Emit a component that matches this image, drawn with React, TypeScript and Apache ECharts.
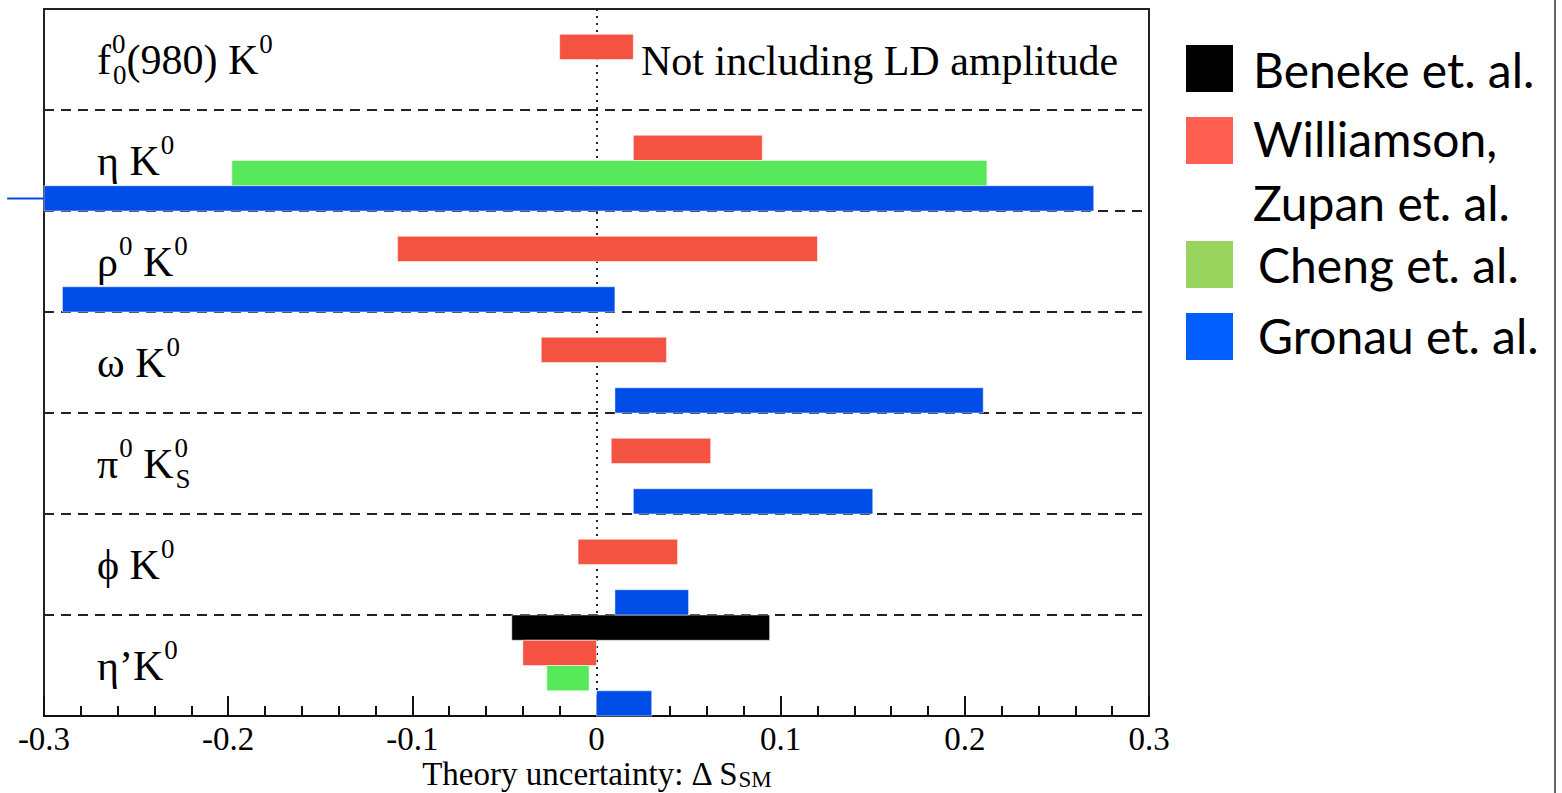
import React, { useEffect, useRef } from "react";
import * as echarts from "echarts";

// ---- data ----
const categories = ["f0(980) K0", "η K0", "ρ0 K0", "ω K0", "π0 KS0", "ϕ K0", "η’K0"];
const rowLabels = [
  "{m|f}{supz|0}{sub|0}{m|(980) K}{sup|0}",
  "{m|η K}{sup|0}",
  "{m|ρ}{sup|0}{m| K}{sup|0}",
  "{m|ω K}{sup|0}",
  "{m|π}{sup|0}{m| K}{supz|0}{sub|S}",
  "{m|ϕ K}{sup|0}",
  "{m|η’K}{sup|0}",
];
// [low, high] per category, null = no estimate
const beneke: ([number, number] | null)[] = [null, null, null, null, null, null, [-0.046, 0.094]];
const williamson: ([number, number] | null)[] = [
  [-0.02, 0.02], [0.02, 0.09], [-0.108, 0.12], [-0.03, 0.038], [0.008, 0.062], [-0.01, 0.044], [-0.04, 0.0],
];
const cheng: ([number, number] | null)[] = [null, [-0.198, 0.212], null, null, null, null, [-0.027, -0.004]];
const gronau: ([number, number] | null)[] = [
  null, [-0.32, 0.27], [-0.29, 0.01], [0.01, 0.21], [0.02, 0.15], [0.01, 0.05], [0.0, 0.03],
];
const seriesNames = ["Beneke et. al.", "Williamson, Zupan et. al.", "Cheng et. al.", "Gronau et. al."];
const legendLines = [["Beneke et. al."], ["Williamson,", "Zupan et. al."], ["Cheng et. al."], ["Gronau et. al."]];
const barColors = ["#000000", "#F55342", "#58E95A", "#004CE6"];
const legendColors = ["#000000", "#FF5F50", "#99D45F", "#005EFF"];
const tickLabels = ["-0.3", "-0.2", "-0.1", "0", "0.1", "0.2", "0.3"];
const xMin = -0.3;
const xMax = 0.3;

const SERIF = "Liberation Serif";

function makeRender(slot: number, color: string) {
  return (params: any, api: any) => {
    const lo = api.value(0);
    const hi = api.value(1);
    const row = api.value(2);
    const band = api.size([0, 1])[1];
    const slotH = band / 4;
    const a = api.coord([lo, row]);
    const b = api.coord([hi, row]);
    const y0 = a[1] - band / 2 + slot * slotH;
    const cs = params.coordSys;
    const rect = echarts.graphic.clipRectByRect(
      { x: a[0], y: y0, width: b[0] - a[0], height: slotH },
      { x: cs.x, y: cs.y, width: cs.width, height: cs.height }
    );
    const children: any[] = [];
    if (rect) {
      children.push({ type: "rect", shape: rect, style: { fill: color, stroke: "rgba(255,255,255,0.5)", lineWidth: 1 } });
    }
    if (lo < xMin) {
      const m = api.coord([xMin, row]);
      children.push({
        type: "line",
        shape: { x1: a[0], y1: y0 + slotH / 2, x2: m[0], y2: y0 + slotH / 2 },
        style: { stroke: color, lineWidth: 2 },
      });
    }
    return { type: "group", children };
  };
}

function toData(arr: ([number, number] | null)[]) {
  const out: number[][] = [];
  arr.forEach((r, i) => {
    if (r) out.push([r[0], r[1], i]);
  });
  return out;
}

export default function App() {
  const ref = useRef<HTMLDivElement>(null);
  useEffect(() => {
    if (!ref.current) return;
    const chart = echarts.init(ref.current, undefined, { renderer: "svg" });
    const all = [beneke, williamson, cheng, gronau];
    const series: any[] = all.map((arr, k) => ({
      type: "custom",
      name: seriesNames[k],
      renderItem: makeRender(k, barColors[k]),
      encode: { x: [0, 1], y: 2 },
      data: toData(arr),
      z: 3,
    }));
    series.push({
      type: "line",
      name: "zero",
      data: [],
      z: 1,
      markLine: {
        silent: true,
        symbol: "none",
        z: 1,
        label: { show: false },
        lineStyle: { type: [2, 5], color: "#222", width: 2 },
        data: [{ xAxis: 0 }],
      },
    });

    const graphics: any[] = [];
    const sqY = [45, 117, 241, 313];
    const textY = [[69], [138, 202], [264], [335]];
    const textX = [1253, 1253, 1258, 1258];
    legendColors.forEach((c, k) => {
      graphics.push({ type: "rect", shape: { x: 1186, y: sqY[k], width: 47, height: 47 }, style: { fill: c } });
      legendLines[k].forEach((t, j) => {
        graphics.push({
          type: "text",
          x: textX[k],
          y: textY[k][j],
          style: { text: t, fill: "#000", fontFamily: "Lato", fontSize: 48, verticalAlign: "middle", align: "left" },
        });
      });
    });
    graphics.push({
      type: "text",
      x: 641,
      y: 61,
      style: { text: "Not including LD amplitude", fill: "#000", fontFamily: SERIF, fontSize: 42, verticalAlign: "middle" },
    });
    graphics.push({ type: "line", shape: { x1: 1555, y1: 0, x2: 1555, y2: 793 }, style: { stroke: "#333", lineWidth: 1.5 } });

    chart.setOption({
      animation: false,
      backgroundColor: "#fff",
      grid: {
        left: 44, right: 413, top: 9, bottom: 77,
        outerBoundsMode: "none",
        containLabel: false,
        show: true, borderColor: "#222", borderWidth: 2, backgroundColor: "transparent",
      },
      xAxis: {
        type: "value",
        min: xMin,
        max: xMax,
        interval: 0.1,
        axisLine: { show: true, lineStyle: { color: "#111", width: 2 } },
        axisTick: { show: true, inside: true, length: 20, lineStyle: { color: "#111", width: 2 } },
        minorTick: { show: true, splitNumber: 5, length: 10, lineStyle: { color: "#111", width: 2 } },
        splitLine: { show: false },
        axisLabel: {
          color: "#000",
          fontFamily: SERIF,
          fontSize: 33,
          lineHeight: 33,
          margin: 6,
          formatter: (v: number) => tickLabels[Math.round((v - xMin) / 0.1)] ?? "",
        },
        name: "{t|Theory uncertainty: Δ S}{s|SM}",
        nameLocation: "middle",
        nameGap: 41,
        nameMoveOverlap: false,
        nameTextStyle: {
          rich: {
            t: { fontFamily: SERIF, fontSize: 33, color: "#000", lineHeight: 26, verticalAlign: "top" },
            s: { fontFamily: SERIF, fontSize: 23, color: "#000", lineHeight: 34, verticalAlign: "bottom" },
          },
        },
      },
      yAxis: {
        type: "category",
        data: categories,
        inverse: true,
        axisLine: { show: false },
        axisTick: { show: false },
        splitLine: { show: true, lineStyle: { type: [10, 7], color: "#222", width: 2 } },
        axisLabel: {
          inside: true,
          margin: 53,
          align: "left",
          formatter: (_v: string, i: number) => rowLabels[i],
          rich: {
            m: { fontFamily: SERIF, fontSize: 42, color: "#000", lineHeight: 58, verticalAlign: "middle" },
            sup: { fontFamily: SERIF, fontSize: 27, color: "#000", lineHeight: 27, verticalAlign: "top", padding: [0, 0, 0, 1] },
            supz: { fontFamily: SERIF, fontSize: 27, color: "#000", lineHeight: 27, verticalAlign: "top", width: 0, padding: [0, 0, 0, 1] },
            sub: { fontFamily: SERIF, fontSize: 27, color: "#000", lineHeight: 27, verticalAlign: "bottom", padding: [0, 0, 0, 1] },
          },
        },
      },
      graphic: graphics,
      series,
    });
    return () => chart.dispose();
  }, []);
  return <div ref={ref} style={{ position: "fixed", left: 0, top: 0, width: 1562, height: 793, background: "#fff" }} />;
}
